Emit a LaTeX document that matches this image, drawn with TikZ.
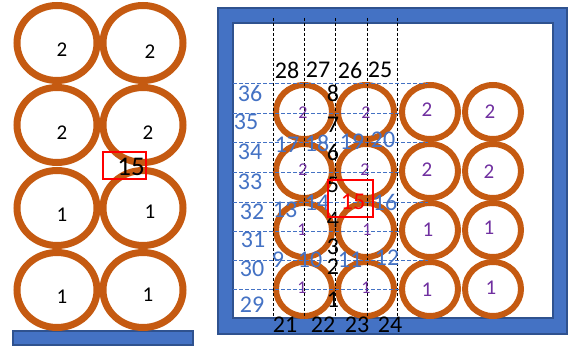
\documentclass[tikz,border=0pt]{standalone}
\usepackage{fontspec}
\setmainfont{Carlito}
\usetikzlibrary{positioning}
\definecolor{ringc}{HTML}{C55A11}
\definecolor{framec}{HTML}{4472C4}
\definecolor{framed}{HTML}{2F528F}
\definecolor{purp}{HTML}{7030A0}

\begin{document}
\begin{tikzpicture}[x=1pt,y=-1pt,
  ringL/.style={draw=ringc, line width=7pt},
  ringR/.style={draw=ringc, line width=6pt},
  vline/.style={dash pattern=on 3pt off 2pt, line width=0.7pt},
  hline/.style={draw=framec, dash pattern=on 4pt off 2pt, line width=0.8pt},
  num/.style={inner sep=0pt, font=\fontsize{24}{24}\selectfont},
  bnum/.style={num, text=framec},
  pnum/.style={inner sep=0pt, text=purp, font=\fontsize{18}{18}\selectfont},
  pnumbig/.style={pnum, font=\fontsize{21}{21}\selectfont},
  redbox/.style={draw=red, line width=2pt, inner sep=0pt}]

  \useasboundingbox (0,0) rectangle (570,347);

  % left stack
  \draw[fill=framec, draw=framed, line width=1.5pt] (13,331) rectangle (193,345);
  \foreach \x in {57,143}
    \foreach \y in {43,125,208,290}
      \draw[ringL] (\x,\y) ellipse [x radius=40, y radius=37.5];
  \foreach \x/\y/\t in {62/50/2, 150/52/2, 62/133/2, 148/133/2,
                        62/215/1, 150/212/1, 62/297/1, 148/295/1}
    \node[num, font=\fontsize{21}{21}\selectfont] at (\x,\y) {\t};
  \node[redbox, minimum width=43pt, minimum height=27pt] (boxL) at (124.5,165.5) {};
  \node[num, font=\fontsize{27}{27}\selectfont] (fifteenL) at (131,167) {15};

  % right frame
  \fill[framec, even odd rule] (218,8) rectangle (567,334) (233,23) rectangle (553,318);
  \draw[framed, line width=1.5pt] (218,8) rectangle (567,334);
  \draw[framed, line width=1.5pt] (233,23) rectangle (553,318);

  \foreach \x in {304,366,430,493}
    \foreach \y in {112,171,230,289}
      \draw[ringR] (\x,\y) ellipse [x radius=28, y radius=27];

  % grid lines
  \foreach \x in {273,304,335,367,397}
    \draw[vline] (\x,18) -- (\x,318);
  \foreach \y/\e in {83/428, 113/400, 142/428, 172/400, 202/428, 231/400, 260/428, 289/400}
    \draw[hline] (233,\y) -- (\e,\y);

  % ring values
  \foreach \x/\y/\t in {303/113/2, 366/113/2, 303/170/2, 365/170/2,
                        302/230/1, 367/230/1, 302/288/1, 366/288/1}
    \node[pnum] at (\x,\y) {\t};
  \foreach \x/\y/\t in {427/110/2, 490/112/2, 427/170/2, 489/172/2,
                        428/230/1, 489/228/1, 427/290/1, 491/288/1}
    \node[pnumbig] at (\x,\y) {\t};

  % numbering
  \foreach \x/\t in {287/28, 318/27, 350/26, 380/25}
    \node[num] (top\t) at (\x,70) {\t};
  \foreach \x/\t in {285/21, 323/22, 357/23, 390/24}
    \node[num] (bot\t) at (\x,325) {\t};
  \foreach \x/\y/\t in {250/93/36, 246/122/35, 250/152/34, 250/182/33,
                        252/212/32, 253/240/31, 252/269/30, 252/305/29}
    \node[bnum] (side\t) at (\x,\y) {\t};
  \foreach \y/\t in {93/8, 125/7, 152/6, 185/5, 220/4, 247/3, 267/2, 300/1}
    \node[num] (mid\t) at (333,\y) {\t};
  \foreach \x/\y/\t in {287/145/17, 317/143/18, 352/142/19, 383/140/20,
                        285/210/13, 317/203/14, 385/202/16,
                        278/260/9, 310/260/10, 350/260/11, 387/258/12}
    \node[bnum] (in\t) at (\x,\y) {\t};
  \node[redbox, minimum width=45pt, minimum height=37pt] (boxR) at (350.5,199) {};
  \node[num, text=red] (fifteenR) at (353,202) {15};

\end{tikzpicture}
\end{document}
